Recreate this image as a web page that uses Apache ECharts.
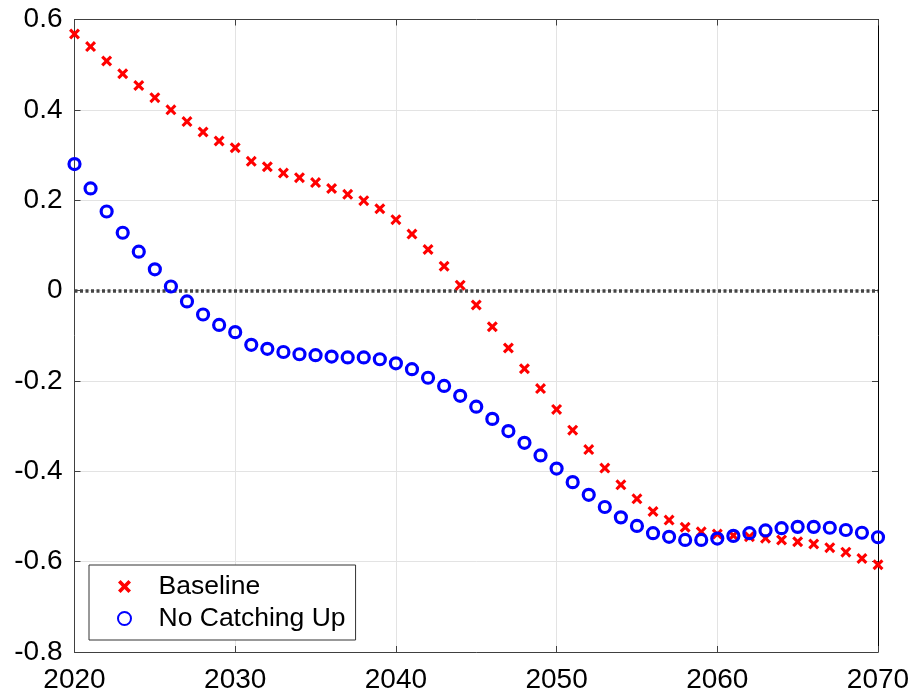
<!DOCTYPE html>
<html>
<head>
<meta charset="utf-8">
<script src="https://cdn.jsdelivr.net/npm/echarts@6/dist/echarts.min.js"></script>
<style>
  html, body { margin: 0; padding: 0; background: #fff; }
  #main { width: 913px; height: 698px; }
</style>
</head>
<body>
<div id="main"></div>
<script>
// years 2020..2070
const years = [];
for (let y = 2020; y <= 2070; y++) years.push(y);

// Baseline (red x)
const baseline = [
  0.568, 0.540, 0.508, 0.480, 0.454, 0.427, 0.400, 0.374, 0.351, 0.331,
  0.316, 0.286, 0.274, 0.260, 0.250, 0.239, 0.226, 0.213, 0.199, 0.181,
  0.157, 0.125, 0.091, 0.054, 0.012, -0.032, -0.080, -0.127, -0.173, -0.217,
  -0.263, -0.309, -0.352, -0.393, -0.430, -0.461, -0.489, -0.508, -0.524, -0.534,
  -0.539, -0.542, -0.545, -0.548, -0.552, -0.556, -0.561, -0.569, -0.579, -0.593,
  -0.607
];

// No Catching Up (blue circles)
const noCatch = [
  0.280, 0.226, 0.175, 0.128, 0.086, 0.047, 0.009, -0.024, -0.053, -0.076,
  -0.092, -0.120, -0.129, -0.136, -0.141, -0.143, -0.146, -0.148, -0.148, -0.152,
  -0.161, -0.174, -0.193, -0.211, -0.233, -0.257, -0.284, -0.311, -0.337, -0.365,
  -0.394, -0.424, -0.452, -0.479, -0.502, -0.521, -0.537, -0.545, -0.552, -0.552,
  -0.549, -0.543, -0.537, -0.531, -0.526, -0.523, -0.523, -0.525, -0.530, -0.536,
  -0.546
];

const seriesNames = ['Baseline', 'No Catching Up'];

const crossPath = 'path://M2,0 L5,3 L8,0 L10,2 L7,5 L10,8 L8,10 L5,7 L2,10 L0,8 L3,5 L0,2 Z';
const axisColor = '#404040';
const gridColor = '#e3e3e3';
const font = 'Liberation Sans, Arial, Helvetica, sans-serif';

const myChart = echarts.init(document.getElementById('main'));

const option = {
  animation: false,
  backgroundColor: '#fff',
  grid: { left: 74.5, right: 35, top: 19.5, bottom: 46 },
  legend: {
    orient: 'vertical',
    left: 89,
    top: 565,
    padding: [8, 10, 8, 28],
    itemWidth: 58,
    itemHeight: 13,
    itemGap: 5,
    borderColor: '#333',
    borderWidth: 1,
    backgroundColor: '#fff',
    textStyle: { fontFamily: font, fontSize: 26.5, color: '#000', lineHeight: 26 },
    data: seriesNames
  },
  xAxis: [
    {
      type: 'value', min: 2020, max: 2070, interval: 10,
      axisLine: { onZero: false, lineStyle: { color: axisColor, width: 1 } },
      axisTick: { inside: true, length: 6, lineStyle: { color: axisColor } },
      axisLabel: { fontFamily: font, fontSize: 28, color: '#000', margin: 14, formatter: v => String(v) },
      splitLine: { show: true, lineStyle: { color: gridColor, width: 1 } }
    },
    {
      type: 'value', min: 2020, max: 2070, interval: 10, position: 'top',
      axisLine: { onZero: false, lineStyle: { color: axisColor, width: 1 } },
      axisTick: { inside: true, length: 6, lineStyle: { color: axisColor } },
      axisLabel: { show: false },
      splitLine: { show: false }
    }
  ],
  yAxis: [
    {
      type: 'value', min: -0.8, max: 0.6, interval: 0.2,
      axisLine: { show: true, onZero: false, lineStyle: { color: axisColor, width: 1 } },
      axisTick: { show: true, inside: true, length: 6, lineStyle: { color: axisColor } },
      axisLabel: {
        fontFamily: font, fontSize: 28, color: '#000', margin: 12,
        formatter: v => (Math.abs(v) < 1e-9 ? '0' : v.toFixed(1))
      },
      splitLine: { show: true, lineStyle: { color: gridColor, width: 1 } }
    },
    {
      type: 'value', min: -0.8, max: 0.6, interval: 0.2, position: 'right',
      axisLine: { show: true, onZero: false, lineStyle: { color: '#000', width: 1 } },
      axisTick: { show: true, inside: true, length: 6, lineStyle: { color: axisColor } },
      axisLabel: { show: false },
      splitLine: { show: false }
    }
  ],
  series: [
    {
      name: seriesNames[0],
      type: 'scatter',
      symbol: crossPath,
      symbolSize: 11,
      symbolKeepAspect: true,
      itemStyle: { color: '#ff0000', opacity: 1 },
      data: years.map((y, i) => [y, baseline[i]]),
      markLine: {
        silent: true,
        symbol: ['none', 'none'],
        label: { show: false },
        lineStyle: { color: '#444', width: 3.5, type: [3, 2.5] },
        data: [{ yAxis: 0 }],
        z: 1
      },
      z: 3
    },
    {
      name: seriesNames[1],
      type: 'scatter',
      symbol: 'circle',
      symbolSize: 11,
      symbolKeepAspect: true,
      itemStyle: { color: 'rgba(0,0,0,0)', borderColor: '#0000ff', borderWidth: 3.2, opacity: 1 },
      data: years.map((y, i) => [y, noCatch[i]]),
      z: 4
    }
  ]
};

myChart.setOption(option);
</script>
</body>
</html>
